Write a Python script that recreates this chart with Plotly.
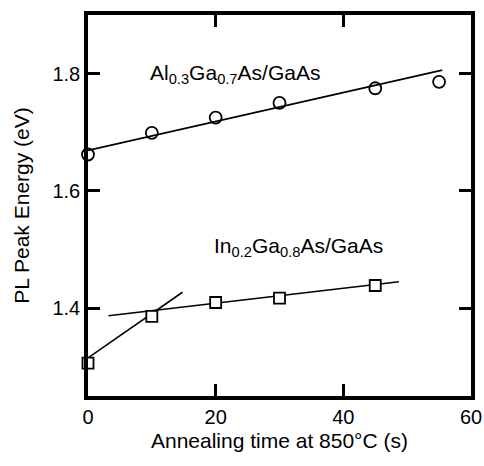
import plotly.graph_objects as go

# Data
time_algaas = [0, 10, 20, 30, 45, 55]
energy_algaas = [1.662, 1.699, 1.725, 1.750, 1.775, 1.786]

time_ingaas = [0, 10, 20, 30, 45]
energy_ingaas = [1.306, 1.386, 1.4095, 1.417, 1.4385]

fit_algaas_x = [0, 55.5]
fit_algaas_y = [1.669, 1.806]

fit_ingaas_early_x = [0, 14.8]
fit_ingaas_early_y = [1.315, 1.427]

fit_ingaas_late_x = [3.2, 48.7]
fit_ingaas_late_y = [1.387, 1.445]

x_ticks = [0, 20, 40, 60]
y_ticks = [1.4, 1.6, 1.8]

FONT = "Liberation Sans, Arial, sans-serif"

fig = go.Figure()

line_style = dict(color="black", width=1.6)
for fx, fy in [(fit_algaas_x, fit_algaas_y),
               (fit_ingaas_early_x, fit_ingaas_early_y),
               (fit_ingaas_late_x, fit_ingaas_late_y)]:
    fig.add_trace(go.Scatter(x=fx, y=fy, mode="lines", line=line_style,
                             showlegend=False, hoverinfo="skip", cliponaxis=False))

fig.add_trace(go.Scatter(
    x=time_algaas, y=energy_algaas, mode="markers",
    marker=dict(symbol="circle-open", size=12, color="black", line=dict(width=1.8)),
    showlegend=False, cliponaxis=False))

fig.add_trace(go.Scatter(
    x=time_ingaas, y=energy_ingaas, mode="markers",
    marker=dict(symbol="square", size=11, color="white", line=dict(width=1.8, color="black")),
    showlegend=False, cliponaxis=False))

fig.add_annotation(x=9.4, y=1.8, xref="x", yref="y", xanchor="left", yanchor="middle",
                   text="Al<sub>0.3</sub>Ga<sub>0.7</sub>As/GaAs", showarrow=False,
                   font=dict(family=FONT, size=21, color="black"))
fig.add_annotation(x=19.5, y=1.505, xref="x", yref="y", xanchor="left", yanchor="middle",
                   text="In<sub>0.2</sub>Ga<sub>0.8</sub>As/GaAs", showarrow=False,
                   font=dict(family=FONT, size=21, color="black"))

axis_common = dict(
    showline=True, linecolor="black", linewidth=3.5, mirror="ticks",
    ticks="inside", ticklen=12, tickwidth=3, tickcolor="black",
    showgrid=False, zeroline=False, automargin=False,
    tickfont=dict(family=FONT, size=20, color="black"),
)

fig.update_xaxes(range=[0, 60], tickvals=x_ticks, ticktext=[str(v) for v in x_ticks],
                 title=dict(text="Annealing time at 850°C (s)",
                            font=dict(family=FONT, size=21, color="black"), standoff=8),
                 **axis_common)
fig.update_yaxes(range=[1.25, 1.9], tickvals=y_ticks, ticktext=[f"{v:.1f}" for v in y_ticks],
                 title=dict(text="PL Peak Energy (eV)",
                            font=dict(family=FONT, size=21, color="black"), standoff=18),
                 **axis_common)

fig.update_layout(
    width=484, height=466,
    margin=dict(l=88, r=13, t=15, b=70),
    plot_bgcolor="white", paper_bgcolor="white",
    font=dict(family=FONT, color="black"),
)

# remove the browser's default 8px body margin so the figure fills the window
fig.write_html("out.html",
               config={"displayModeBar": False},
               post_script="document.body.style.margin='0';document.body.style.overflow='hidden';")
